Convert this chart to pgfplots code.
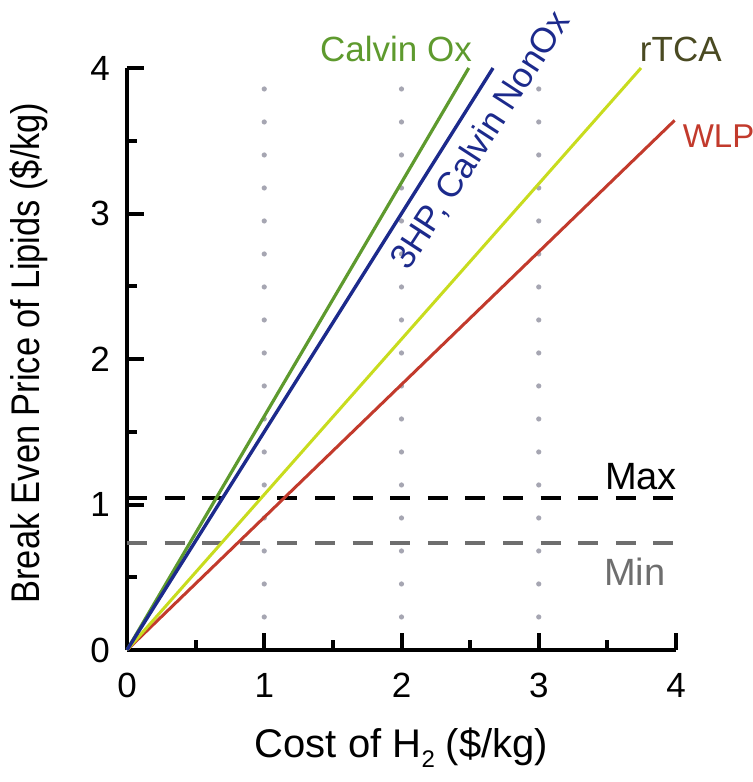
\documentclass[border=0pt]{standalone}
\usepackage{pgfplots}
\pgfplotsset{compat=1.18}
\usepackage{fontspec}
\setmainfont{Liberation Sans}
\definecolor{cgreen}{HTML}{5E9A2E}
\definecolor{cblue}{HTML}{1C2A8C}
\definecolor{cyel}{HTML}{C8DC1E}
\definecolor{cred}{HTML}{C23A2C}
\definecolor{colive}{HTML}{4A4A22}
\definecolor{dotgray}{HTML}{A6A6B2}
\definecolor{mingray}{HTML}{6E6E6E}
\begin{document}
\begin{tikzpicture}
\useasboundingbox (-63.5pt,-66pt) rectangle (313pt,325pt);
\begin{axis}[
  at={(0,0)}, anchor=origin,
  scale only axis, width=274.5pt, height=291pt,
  xmin=0, xmax=4, ymin=0, ymax=4,
  axis x line=bottom, axis y line=left,
  axis line style={-, line width=2.2pt},
  xtick={0,1,2,3,4}, ytick={0,1,2,3,4},
  minor xtick={0.5,1.5,2.5,3.5}, minor ytick={0.5,1.5,2.5,3.5},
  tick align=inside,
  major tick length=8.5pt, minor tick length=5pt,
  every tick/.style={line width=2pt, black},
  clip=false,
  font=\fontsize{17.5}{21}\selectfont,
  ticklabel style={font=\fontsize{17.5}{21}\selectfont},
  /pgf/number format/assume math mode=true,
  xticklabel style={yshift=-8pt},
  yticklabel style={xshift=-5pt},
  xlabel={Cost of H\raisebox{-5pt}{\fontsize{12}{14}\selectfont 2} (\$/kg)},
  ylabel={\scalebox{0.86}[1]{Break Even Price of Lipids (\$/kg)}},
  xlabel style={font=\fontsize{20}{24}\selectfont, at={(axis description cs:0.5,0)}, anchor=center, yshift=-49pt},
  ylabel style={font=\fontsize{20}{24}\selectfont, at={(axis description cs:0,0.5)}, anchor=center, yshift=49pt, xshift=3pt},
]
% dotted verticals
\addplot[dotgray, line width=2.6pt, line cap=round, dash pattern=on 0pt off 16.5pt] coordinates {(1,0.227) (1,3.87)};
\addplot[dotgray, line width=2.6pt, line cap=round, dash pattern=on 0pt off 16.5pt] coordinates {(2,0.227) (2,3.87)};
\addplot[dotgray, line width=2.6pt, line cap=round, dash pattern=on 0pt off 16.5pt] coordinates {(3,0.227) (3,3.87)};
% max/min
\addplot[black, line width=1.6pt, dash pattern=on 10pt off 8.8pt] coordinates {(0,1.045) (4,1.045)};
\addplot[mingray, line width=1.6pt, dash pattern=on 10pt off 8.8pt] coordinates {(0,0.735) (4,0.735)};
% lines
\addplot[cred, line width=1.5pt] coordinates {(0,0) (3.99,3.64)};
\addplot[cyel, line width=1.5pt] coordinates {(0,0) (3.745,4)};
\addplot[cgreen, line width=1.6pt] coordinates {(0,0) (2.49,4)};
\addplot[cblue, line width=1.7pt] coordinates {(0,0) (2.667,4)};
% labels
\node[cgreen] at (axis cs:1.96,4.13) {Calvin Ox};
\node[colive] at (axis cs:4.035,4.13) {rTCA};
\node[cred] at (axis cs:4.31,3.53) {\fontsize{16.5}{20}\selectfont WLP};
\node[cblue, rotate=57] at (axis cs:2.58,3.50) {3HP, Calvin NonOx};
\node[black] at (axis cs:3.745,1.19) {\fontsize{19}{22}\selectfont Max};
\node[mingray] at (axis cs:3.70,0.536) {\fontsize{19}{22}\selectfont Min};
\end{axis}
\end{tikzpicture}
\end{document}
